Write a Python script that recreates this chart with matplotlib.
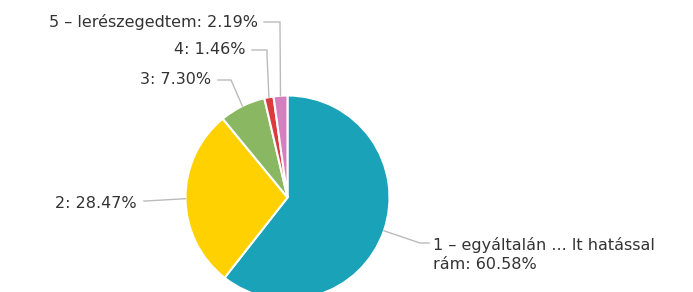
import numpy as np
import matplotlib
matplotlib.use("Agg")
import matplotlib.pyplot as plt

labels = ["1 – egyáltalán ... lt hatással\nrám", "2", "3", "4", "5 – lerészegedtem"]
values = [60.58, 28.47, 7.30, 1.46, 2.19]
colors = ["#19A2B8", "#FFD100", "#8AB862", "#DC3B3E", "#D480BE"]

W, H = 693, 292
fig = plt.figure(figsize=(W / 100, H / 100), dpi=100)
ax = fig.add_axes([0, 0, 1, 1])

cx, cy, r = 287.5, H - 197.5, 102
wedges, _ = ax.pie(values, colors=colors, startangle=90, counterclock=False,
                   center=(cx, cy), radius=r, frame=True,
                   wedgeprops=dict(edgecolor="white", linewidth=1.5))
ax.set_xlim(0, W)
ax.set_ylim(0, H)
ax.set_axis_off()

# label anchors (text end point) and elbow, in pixel-from-top coords
text_pos = [(433, 243), (137, 203), (211, 80), (246, 50), (258, 22)]
elbow = [(420, 243), (146, 201), (231, 80), (267, 50), (280, 22)]
ha = ["left", "right", "right", "right", "right"]
line_col = "#BBBBBB"
fs = 11.5

for i, w in enumerate(wedges):
    ang = np.deg2rad((w.theta1 + w.theta2) / 2)
    px = cx + r * np.cos(ang)
    py = cy + r * np.sin(ang)
    ex, ey = elbow[i][0], H - elbow[i][1]
    tx, ty = text_pos[i][0], H - text_pos[i][1]
    if i in (3, 4):
        ax.plot([tx + 6, ex, ex, px], [ty, ty, ey - 4, py], color=line_col, lw=1)
    elif i == 0:
        ax.plot([px, ex, tx - 4], [py, ey, ty], color=line_col, lw=1)
    elif i == 1:
        ax.plot([px, ex, tx + 7], [py, ey, ey], color=line_col, lw=1)
    else:
        ax.plot([px, ex, tx + 7], [py, ey, ty], color=line_col, lw=1)
    txt = f"{labels[i]}: {values[i]:.2f}%"
    if i == 0:
        ax.text(tx, ty + 6, txt, ha="left", va="top", fontsize=fs,
                color="#333333", linespacing=1.3, family="DejaVu Sans")
    else:
        ax.text(tx, ty, txt, ha=ha[i], va="center", fontsize=fs,
                color="#333333", family="DejaVu Sans")

fig.savefig("out.png", dpi=100, facecolor="white")
